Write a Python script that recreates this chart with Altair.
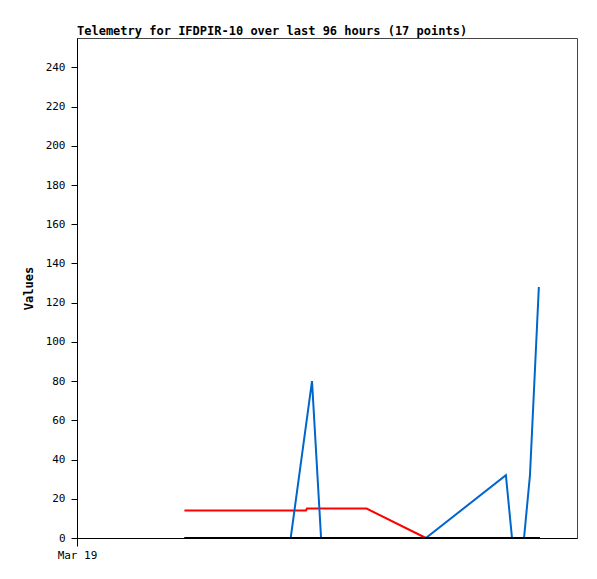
import altair as alt
import pandas as pd

# hours after Mar 19 00:00
black_hours = [29, 125]
black_vals = [0, 0]

red_hours = [29, 61.8, 62.1, 78.2, 94.2]
red_vals = [14, 14, 15, 15, 0]

blue_hours = [29, 57.7, 63.45, 65.9, 94.2, 115.8, 117.45, 120.7, 122.3, 124.7]
blue_vals = [0, 0, 80, 0, 0, 32, 0, 0, 32, 128]

base = pd.Timestamp("2024-03-19T00:00:00")

rows = []
for name, hrs, vals in [("red", red_hours, red_vals),
                        ("blue", blue_hours, blue_vals),
                        ("black", black_hours, black_vals)]:
    for h, v in zip(hrs, vals):
        rows.append({"series": name, "time": (base + pd.Timedelta(hours=h)).isoformat(),
                     "value": v})
df = pd.DataFrame(rows)

font = "DejaVu Sans Mono"
x_domain = [base.isoformat(), (base + pd.Timedelta(hours=135)).isoformat()]

base_chart = alt.Chart(df).encode(
    x=alt.X("time:T", scale=alt.Scale(domain=x_domain),
            axis=alt.Axis(values=[base.isoformat()], title=None,
                          labelExpr="timeFormat(datum.value, '%b %e')",
                          grid=False, domain=True, ticks=True,
                          domainColor="black", domainWidth=1, domainOpacity=1,
                          tickColor="black", tickWidth=1, tickOpacity=1, tickSize=8,
                          labelFont=font, labelFontSize=11, labelColor="black",
                          labelAlign="center", labelPadding=3, zindex=1)),
    y=alt.Y("value:Q", scale=alt.Scale(domain=[0, 255], nice=False),
            axis=alt.Axis(values=list(range(0, 241, 20)), title="Values", grid=False,
                          domain=True, ticks=True,
                          domainColor="black", domainWidth=1, domainOpacity=1,
                          tickColor="black", tickWidth=1, tickOpacity=1, tickSize=6,
                          labelFont=font, labelFontSize=11, labelColor="black",
                          titleFont=font, titleFontSize=12, titleFontWeight="bold",
                          titleColor="black", titlePadding=10, labelPadding=6, zindex=1)),
)

red = base_chart.transform_filter(alt.datum.series == "red").mark_line(strokeWidth=2, color="#ff0000")
blue = base_chart.transform_filter(alt.datum.series == "blue").mark_line(strokeWidth=2, color="#0066cc")
black = base_chart.transform_filter(alt.datum.series == "black").mark_line(strokeWidth=2, color="#000000")

chart = alt.layer(red, blue, black).properties(
    width=500, height=500,
    title=alt.TitleParams("Telemetry for IFDPIR-10 over last 96 hours (17 points)",
                          anchor="start", frame="group", font=font, fontSize=12,
                          fontWeight="bold", color="black", offset=4, dy=4),
    autosize=alt.AutoSizeParams(type="none"),
    padding={"left": 69, "top": 30, "right": 12, "bottom": 33},
).configure_view(stroke="#444444", strokeWidth=1)

chart.save("out.html", embed_options={"renderer": "svg", "actions": False})
